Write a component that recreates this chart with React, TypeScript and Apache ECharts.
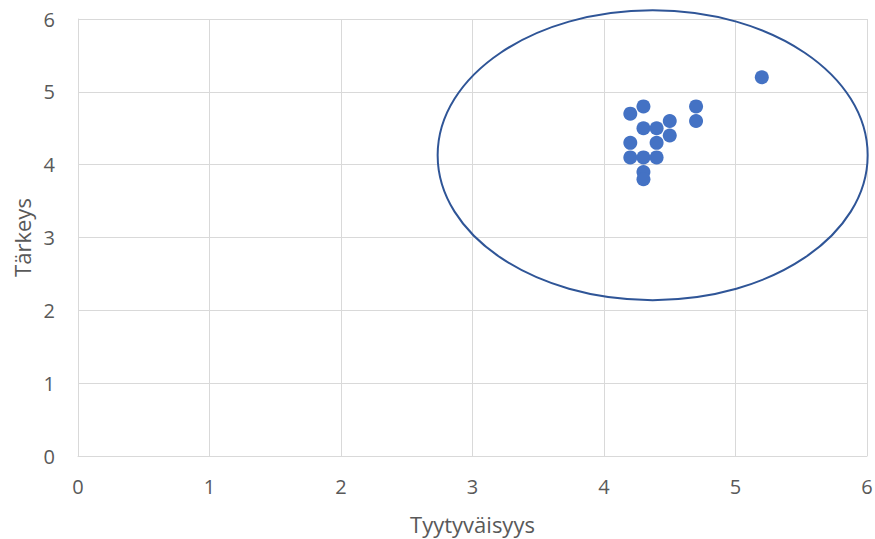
import React, { useEffect, useRef } from "react";
import * as echarts from "echarts";

const satisfaction = [4.2, 4.3, 4.3, 4.4, 4.5, 4.5, 4.7, 4.7, 4.2, 4.4, 4.2, 4.3, 4.4, 4.3, 4.3, 5.2];
const importance = [4.7, 4.8, 4.5, 4.5, 4.6, 4.4, 4.8, 4.6, 4.3, 4.3, 4.1, 4.1, 4.1, 3.9, 3.8, 5.2];
const ellipseCenter = [4.37, 4.13];
const ellipseRadius = [1.635, 1.99];
const tickLabels = ["0", "1", "2", "3", "4", "5", "6"];

export default function App() {
  const ref = useRef<HTMLDivElement>(null);
  useEffect(() => {
    const chart = echarts.init(ref.current!, null, { renderer: "svg" });
    const txt = "#595959";
    const font = "Open Sans";
    chart.setOption({
      animation: false,
      grid: { left: 78, right: 8, top: 19, bottom: 83, containLabel: false, outerBoundsMode: "none" },
      xAxis: {
        type: "value",
        min: 0,
        max: 6,
        interval: 1,
        name: "Tyytyväisyys",
        nameLocation: "middle",
        nameGap: 57,
        nameTextStyle: { color: txt, fontSize: 22, fontFamily: font },
        axisLine: { show: true, lineStyle: { color: "#d9d9d9" } },
        axisTick: { show: false },
        axisLabel: { color: txt, fontSize: 20, fontFamily: font, margin: 20, formatter: (v: number) => tickLabels[v] },
        splitLine: { show: true, lineStyle: { color: "#d9d9d9" } },
      },
      yAxis: {
        type: "value",
        min: 0,
        max: 6,
        interval: 1,
        name: "Tärkeys",
        nameLocation: "middle",
        nameGap: 45,
        nameTextStyle: { color: txt, fontSize: 22, fontFamily: font },
        axisLine: { show: true, lineStyle: { color: "#d9d9d9" } },
        axisTick: { show: false },
        axisLabel: { color: txt, fontSize: 20, fontFamily: font, margin: 23, formatter: (v: number) => tickLabels[v] },
        splitLine: { show: true, lineStyle: { color: "#d9d9d9" } },
      },
      series: [
        {
          type: "scatter",
          symbolSize: 14,
          itemStyle: { color: "#4472C4", opacity: 1 },
          data: satisfaction.map((x, i) => [x, importance[i]]),
        },
        {
          type: "custom",
          clip: false,
          silent: true,
          data: [[ellipseCenter[0], ellipseCenter[1]]],
          renderItem: (params: any, api: any) => {
            const c = api.coord([ellipseCenter[0], ellipseCenter[1]]);
            const s = api.size([ellipseRadius[0], ellipseRadius[1]]);
            return {
              type: "ellipse",
              shape: { cx: c[0], cy: c[1], rx: s[0], ry: s[1] },
              style: { fill: "none", stroke: "#2F5597", lineWidth: 2 },
            };
          },
        },
      ],
    });
    return () => chart.dispose();
  }, []);
  return <div ref={ref} style={{ position: "absolute", left: 0, top: 0, width: 875, height: 539 }} />;
}
